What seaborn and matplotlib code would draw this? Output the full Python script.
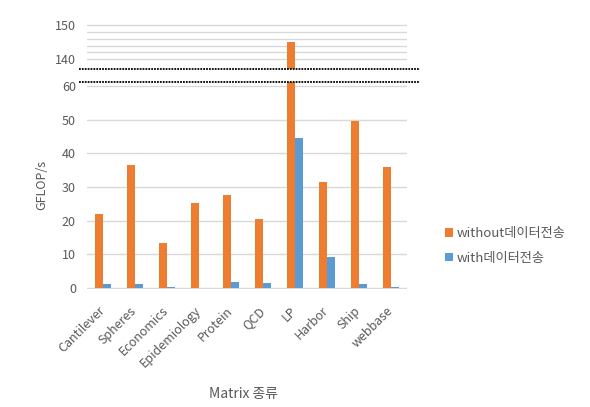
import matplotlib
matplotlib.use("Agg")
import matplotlib.pyplot as plt
from matplotlib.lines import Line2D
import matplotlib.transforms as mtransforms
import seaborn as sns
import pandas as pd

categories = ["Cantilever", "Spheres", "Economics", "Epidemiology", "Protein",
              "QCD", "LP", "Harbor", "Ship", "webbase"]
without_transfer = [22.0, 36.4, 13.5, 25.2, 27.7, 20.6, 145.0, 31.5, 49.6, 36.1]
with_transfer = [1.2, 1.3, 0.2, 0.1, 1.9, 1.6, 44.7, 9.2, 1.1, 0.2]
series_names = ["without데이터전송", "with데이터전송"]
colors = ["#ED7D31", "#5B9BD5"]
top_ticks = [140, 150]
bottom_ticks = [0, 10, 20, 30, 40, 50, 60]

sns.set_theme(style="white")
plt.rcParams['font.family'] = ['Noto Sans CJK KR', 'DejaVu Sans']

df = pd.DataFrame({
    "cat": categories * 2,
    "val": without_transfer + with_transfer,
    "series": [series_names[0]] * len(categories) + [series_names[1]] * len(categories),
})

fig = plt.figure(figsize=(5.9, 4.07), dpi=100)
left, width = 87 / 590, 320 / 590
ax_top = fig.add_axes([left, 1 - 69 / 407, width, 49 / 407])
ax_bot = fig.add_axes([left, 1 - 289 / 407, width, (289 - 81.7) / 407])

grid_c = "#D9D9D9"
text_c = "#595959"
for ax in (ax_top, ax_bot):
    sns.barplot(data=df, x="cat", y="val", hue="series", palette=colors,
                saturation=1, width=0.5, ax=ax, legend=(ax is ax_bot), zorder=3,
                edgecolor="none", linewidth=0)
    for s in ax.spines.values():
        s.set_visible(False)
    ax.set_xlabel("")
    ax.set_ylabel("")
    ax.tick_params(axis="y", colors=text_c, labelsize=9, length=0, pad=8)
    ax.set_xlim(-0.5, len(categories) - 0.5)

ax_top.set_ylim(137.1, 151.5)
ax_top.set_yticks(top_ticks)
ax_top.set_yticks([142, 144, 146, 148], minor=True)
ax_top.tick_params(axis="y", which="minor", length=0)
ax_top.grid(axis="y", which="both", color=grid_c, linewidth=1, zorder=0)
ax_top.set_xticks([])

ax_bot.set_ylim(-0.3, 61.3)
ax_bot.set_yticks(bottom_ticks)
ax_bot.grid(axis="y", color=grid_c, linewidth=1, zorder=0)
ax_bot.tick_params(axis="x", colors=text_c, labelsize=9, length=0, pad=11)
offset = mtransforms.ScaledTranslation(-5 / 100, 0, fig.dpi_scale_trans)
for lbl in ax_bot.get_xticklabels():
    lbl.set_rotation(45)
    lbl.set_ha("right")
    lbl.set_rotation_mode("anchor")
    lbl.set_transform(lbl.get_transform() + offset)
ax_bot.set_ylabel("GFLOP/s", color=text_c, fontsize=9, labelpad=10)
ax_bot.set_xlabel("Matrix 종류", color=text_c, fontsize=10, va="center")
ax_bot.xaxis.set_label_coords(0.49, (289 - 394) / (289 - 81.7))

handles, labels = ax_bot.get_legend_handles_labels()
ax_bot.get_legend().remove()
fig.legend(handles, labels, loc="center left", bbox_to_anchor=(433 / 590, 1 - 246 / 407),
           frameon=False, fontsize=9.5, handlelength=0.6, handleheight=0.6,
           handletextpad=0.3, labelspacing=0.9, labelcolor=text_c)

for yy in (69, 81.7):
    fig.add_artist(Line2D([79 / 590, 420 / 590], [1 - yy / 407, 1 - yy / 407],
                          transform=fig.transFigure, color="black",
                          linestyle=(0, (1, 0.6)), linewidth=1.3))

fig.savefig("out.png", dpi=100)
